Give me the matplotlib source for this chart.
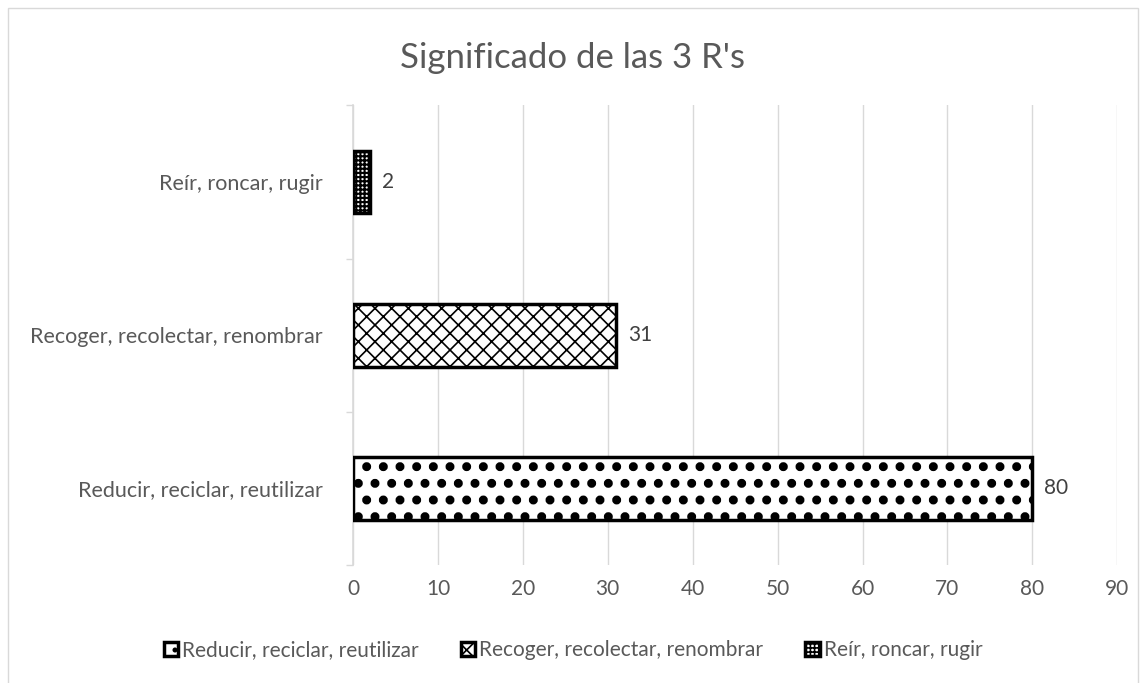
import matplotlib
matplotlib.use('Agg')
import matplotlib.pyplot as plt
from matplotlib.patches import Rectangle

plt.rcParams['font.family'] = ['Lato', 'DejaVu Sans']

# data
categorias = ['Reducir, reciclar, reutilizar', 'Recoger, recolectar, renombrar', 'Reír, roncar, rugir']
valores = [80, 31, 2]
tramas = ['.', 'xx', '++++']
grosor_trama = [4.0, 1.2, 1.5]
titulo = "Significado de las 3 R's"
x_ticks = [0, 10, 20, 30, 40, 50, 60, 70, 80, 90]

fig = plt.figure(figsize=(11.46, 6.83), dpi=100)
ax = fig.add_axes([0.308, 0.1728, 0.667, 0.673])

gris = '#595959'
for i, (cat, val, h, hw) in enumerate(zip(categorias, valores, tramas, grosor_trama)):
    plt.rcParams['hatch.linewidth'] = hw
    bars = ax.barh(i, val, height=0.41, color='white', edgecolor='black',
                   linewidth=2.5, hatch=h, label=cat, zorder=3)
    for b in bars:
        if hasattr(b, 'set_hatch_linewidth'):
            b.set_hatch_linewidth(hw)
    ax.text(val + 1.4, i, str(val), va='center', ha='left', fontsize=15, color='#404040')
plt.rcParams['hatch.linewidth'] = 1.2

ax.set_xlim(0, 90)
ax.set_ylim(-0.5, 2.5)
ax.set_xticks(x_ticks)
ax.set_yticks(range(len(categorias)))
ax.set_yticklabels(categorias)
ax.tick_params(axis='y', length=0, pad=22, labelsize=15.5, labelcolor=gris)
ax.tick_params(axis='x', length=0, pad=10, labelsize=15, labelcolor=gris)
ax.set_yticks([-0.5, 0.5, 1.5, 2.5], minor=True)
ax.tick_params(axis='y', which='minor', length=5, color='#d9d9d9', width=1)
ax.grid(axis='x', color='#d9d9d9', linewidth=1, zorder=0)
for s in ['top', 'right', 'bottom']:
    ax.spines[s].set_visible(False)
ax.spines['left'].set_color('#d9d9d9')
ax.spines['left'].set_linewidth(1.2)

fig.text(0.5, 0.915, titulo, ha='center', va='center', fontsize=25, color=gris)

leg = fig.legend(loc='center', bbox_to_anchor=(0.5, 0.048), ncol=3, frameon=False,
                 fontsize=15, handlelength=0.7, handleheight=0.7, handletextpad=0.2,
                 columnspacing=2.0, labelcolor=gris)

fig.patches.append(Rectangle((0.007, -0.1), 0.986, 1.088, transform=fig.transFigure,
                             fill=False, edgecolor='#d9d9d9', linewidth=1))

fig.savefig('out.png', dpi=100)
